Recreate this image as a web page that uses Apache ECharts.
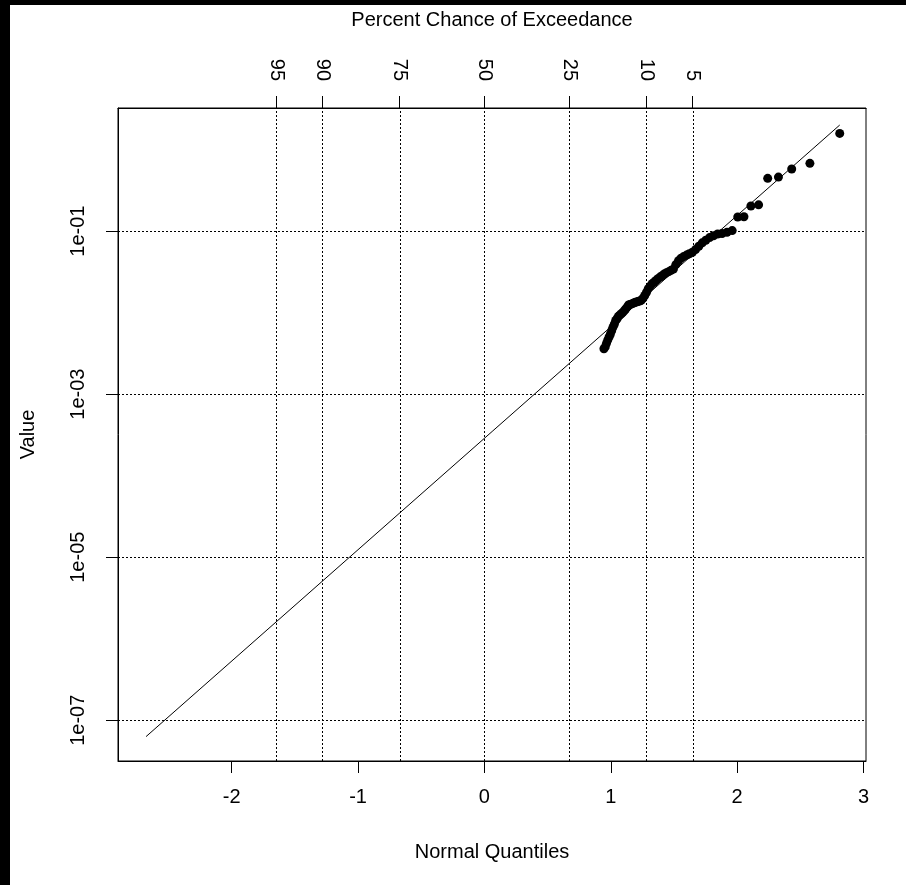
<!DOCTYPE html>
<html lang="en">
<head>
    <meta charset="UTF-8">
    <title>Probability plot</title>
    <style>
    html, body {
        margin: 0;
        padding: 0;
        background: #000;
    }
    #main {
        position: absolute;
        left: 10px;
        top: 5px;
        width: 896px;
        height: 880px;
        background: #fff;
    }
    </style>
</head>
<body>
    <div id="main"></div>
    <script src="https://cdn.jsdelivr.net/npm/echarts@6/dist/echarts.min.js"></script>
    <script>
    // normal quantiles of the plotted points (largest first)
    var quantiles = [2.812, 2.576, 2.432, 2.327, 2.242, 2.170, 2.109, 2.054, 2.005, 1.961,
        1.920, 1.881, 1.846, 1.813, 1.782, 1.752, 1.724, 1.697, 1.671, 1.646,
        1.622, 1.600, 1.577, 1.556, 1.536, 1.515, 1.496, 1.477, 1.459, 1.441,
        1.423, 1.406, 1.390, 1.373, 1.358, 1.342, 1.327, 1.312, 1.297, 1.283,
        1.269, 1.255, 1.241, 1.228, 1.215, 1.202, 1.190, 1.177, 1.165, 1.152,
        1.141, 1.129, 1.116, 1.106, 1.094, 1.083, 1.071, 1.060, 1.050, 1.039,
        1.028, 1.017, 1.007, 0.996, 0.986, 0.976, 0.966, 0.956, 0.946];
    var values = [1.58, 0.678, 0.577, 0.460, 0.444, 0.210, 0.203, 0.150, 0.149, 0.1014,
        0.0969, 0.0935, 0.0921, 0.0878, 0.0832, 0.0773, 0.0718, 0.0651, 0.0593, 0.0551,
        0.0527, 0.0508, 0.0487, 0.0466, 0.0433, 0.0388, 0.0342, 0.0330, 0.0318, 0.0309,
        0.0298, 0.0284, 0.0273, 0.0260, 0.0248, 0.0236, 0.0226, 0.0211, 0.0197, 0.0178,
        0.0162, 0.0150, 0.0142, 0.0139, 0.0137, 0.0135, 0.0133, 0.0130, 0.0128, 0.0126,
        0.0124, 0.0117, 0.0110, 0.0105, 0.0100, 0.0097, 0.0093, 0.0090, 0.0084, 0.0080,
        0.0072, 0.0066, 0.0060, 0.0054, 0.0050, 0.0046, 0.0042, 0.0038, 0.0036];

    // fitted line end points
    var fitX = [-2.678, 2.812];
    var fitY = [6.3e-8, 2.0];

    // axis ticks
    var xTicks = [-2, -1, 0, 1, 2, 3];
    var yTicks = [1e-7, 1e-5, 1e-3, 1e-1];
    var pctLabels = ['95', '90', '75', '50', '25', '10', '5'];
    var pctQuantiles = [-1.645, -1.282, -0.674, 0, 0.674, 1.282, 1.645];

    var font = "'Liberation Sans', Arial, sans-serif";
    var fs = 20;
    var dotted = { color: '#000', width: 1, type: [2, 2] };

    var points = quantiles.map(function (q, i) { return [q, values[i]]; });
    var fitLine = fitX.map(function (x, i) { return [x, fitY[i]]; });

    var vLines = pctQuantiles.map(function (v) { return { xAxis: v }; });

    var myChart = echarts.init(document.getElementById('main'));
    var option = {
        animation: false,
        backgroundColor: '#fff',
        textStyle: { fontFamily: font, color: '#000' },
        grid: {
            left: 107, right: 40, top: 103, bottom: 124,
            show: true, borderColor: '#000', borderWidth: 1,
            backgroundColor: 'transparent'
        },
        xAxis: [{
            type: 'value',
            position: 'bottom',
            min: -2.90,
            max: 3.02,
            name: 'Normal Quantiles',
            nameLocation: 'middle',
            nameGap: 81,
            nameTextStyle: { fontSize: fs, color: '#000', fontFamily: font },
            axisLine: { show: true, onZero: false, lineStyle: { color: '#000', width: 1 } },
            axisTick: { show: true, length: 12, lineStyle: { color: '#000' }, customValues: xTicks },
            axisLabel: { fontSize: fs, color: '#000', fontFamily: font, margin: 26, customValues: xTicks },
            splitLine: { show: false }
        }, {
            type: 'value',
            position: 'top',
            min: -2.90,
            max: 3.02,
            name: 'Percent Chance of Exceedance',
            nameLocation: 'middle',
            nameGap: 78,
            nameTextStyle: { fontSize: fs, color: '#000', fontFamily: font },
            axisLine: { show: true, onZero: false, lineStyle: { color: '#000', width: 1 } },
            axisTick: { show: true, length: 12, lineStyle: { color: '#000' }, customValues: pctQuantiles },
            axisLabel: {
                fontSize: fs, color: '#000', fontFamily: font, margin: 27, rotate: 90,
                customValues: pctQuantiles,
                formatter: function (v) {
                    for (var i = 0; i < pctQuantiles.length; i++) {
                        if (Math.abs(pctQuantiles[i] - v) < 1e-6) return pctLabels[i];
                    }
                    return '';
                }
            },
            splitLine: { show: false }
        }],
        yAxis: {
            type: 'log',
            logBase: 10,
            min: Math.pow(10, -7.5),
            max: Math.pow(10, 0.51),
            name: 'Value',
            nameLocation: 'middle',
            nameGap: 80,
            nameRotate: 90,
            nameTextStyle: { fontSize: fs, color: '#000', fontFamily: font },
            axisLine: { show: true, onZero: false, lineStyle: { color: '#000', width: 1 } },
            axisTick: { show: true, length: 12, lineStyle: { color: '#000' }, customValues: yTicks },
            axisLabel: {
                fontSize: fs, color: '#000', fontFamily: font, margin: 30, rotate: 90,
                customValues: yTicks,
                formatter: function (v) {
                    var e = Math.round(Math.log10(v));
                    var s = String(Math.abs(e));
                    if (s.length < 2) s = '0' + s;
                    return '1e' + (e < 0 ? '-' : '+') + s;
                }
            },
            splitLine: { show: true, lineStyle: dotted },
            minorTick: { show: false }
        },
        series: [{
            type: 'line',
            xAxisIndex: 0,
            data: fitLine,
            symbol: 'none',
            lineStyle: { color: '#000', width: 1 },
            silent: true,
            markLine: {
                silent: true,
                symbol: 'none',
                label: { show: false },
                lineStyle: dotted,
                data: vLines
            }
        }, {
            type: 'scatter',
            xAxisIndex: 0,
            data: points,
            symbol: 'circle',
            symbolSize: 9,
            itemStyle: { color: '#000', opacity: 1 }
        }]
    };
    myChart.setOption(option);
    </script>
</body>
</html>
